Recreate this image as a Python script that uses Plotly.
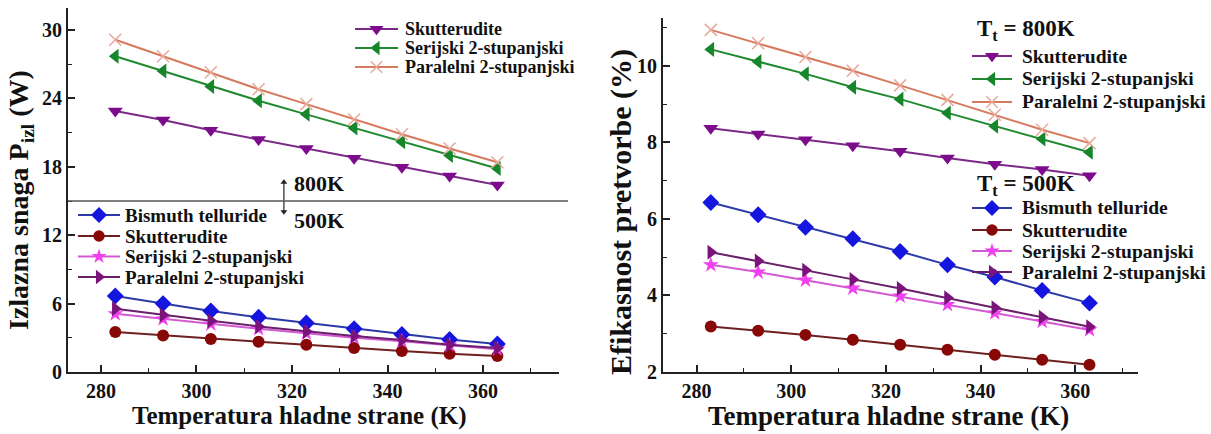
import plotly.graph_objects as go

# ---------------- data ----------------
temps = [283, 293, 303, 313, 323, 333, 343, 353, 363]

# Output power (W)
p_sku800 = [22.9, 22.1, 21.2, 20.4, 19.6, 18.75, 17.95, 17.2, 16.4]
p_ser800 = [27.7, 26.4, 25.05, 23.8, 22.6, 21.4, 20.2, 19.0, 17.85]
p_par800 = [29.15, 27.7, 26.3, 24.8, 23.5, 22.15, 20.85, 19.6, 18.4]
p_bi500 = [6.67, 6.0, 5.35, 4.8, 4.3, 3.8, 3.3, 2.85, 2.45]
p_sku500 = [3.5, 3.2, 2.9, 2.65, 2.4, 2.1, 1.85, 1.6, 1.4]
p_ser500 = [5.1, 4.65, 4.2, 3.8, 3.4, 3.0, 2.7, 2.35, 2.0]
p_par500 = [5.55, 5.0, 4.5, 4.0, 3.55, 3.15, 2.8, 2.4, 2.1]

# Conversion efficiency (%)
e_sku800 = [8.37, 8.22, 8.07, 7.91, 7.77, 7.59, 7.43, 7.29, 7.13]
e_ser800 = [10.43, 10.11, 9.79, 9.44, 9.13, 8.77, 8.42, 8.09, 7.74]
e_par800 = [10.94, 10.59, 10.23, 9.87, 9.49, 9.11, 8.72, 8.33, 7.98]
e_bi500 = [6.43, 6.11, 5.78, 5.48, 5.15, 4.8, 4.48, 4.13, 3.8]
e_sku500 = [3.19, 3.08, 2.97, 2.84, 2.71, 2.58, 2.45, 2.32, 2.19]
e_ser500 = [4.8, 4.61, 4.4, 4.19, 3.98, 3.76, 3.54, 3.32, 3.1]
e_par500 = [5.13, 4.9, 4.66, 4.42, 4.18, 3.94, 3.68, 3.43, 3.18]

names = {
    "sku": "Skutterudite",
    "ser": "Serijski 2-stupanjski",
    "par": "Paralelni 2-stupanjski",
    "bi": "Bismuth telluride",
}
group_titles = ["800K", "500K"]
x_title = "Temperatura hladne strane (K)"
y_titles = ["Izlazna snaga P<sub>izl</sub> (W)", "Efikasnost pretvorbe (%)"]

# ---------------- styles ----------------
FONT = "Liberation Serif, Times New Roman, serif"
W, H = 1211, 434
INK = "#111"

styles = {
    "sku800": dict(line="#7a2a86", marker="#7d0c8c", symbol="triangle-down", size=13),
    "ser800": dict(line="#1f8a2f", marker="#15862a", symbol="triangle-left", size=13),
    "par800": dict(line="#d67a5e", marker="#e8a89a", symbol="x-thin-open", size=12),
    "bi500": dict(line="#2c3aa8", marker="#1515e0", symbol="diamond", size=13),
    "sku500": dict(line="#6e2020", marker="#880808", symbol="circle", size=12),
    "ser500": dict(line="#d45ad4", marker="#f040f0", symbol="star", size=12),
    "par500": dict(line="#6a1f6a", marker="#7a137a", symbol="triangle-right", size=13),
}

fig = go.Figure()


def marker_of(key, scale=1.0):
    s = styles[key]
    mk = dict(symbol=s["symbol"], size=s["size"] * scale, color=s["marker"])
    if s["symbol"].startswith("x-thin"):
        mk["line"] = dict(color=s["marker"], width=1.5)
    else:
        mk["line"] = dict(width=0)
    return mk


def add(xa, ya, y, key, name):
    s = styles[key]
    fig.add_trace(go.Scatter(
        x=temps, y=y, name=name, mode="lines+markers",
        line=dict(color=s["line"], width=2), marker=marker_of(key),
        xaxis=xa, yaxis=ya, showlegend=False,
    ))


# left panel
add("x", "y", p_sku800, "sku800", names["sku"])
add("x", "y", p_ser800, "ser800", names["ser"])
add("x", "y", p_par800, "par800", names["par"])
add("x", "y", p_bi500, "bi500", names["bi"])
add("x", "y", p_sku500, "sku500", names["sku"])
add("x", "y", p_ser500, "ser500", names["ser"])
add("x", "y", p_par500, "par500", names["par"])
# right panel
add("x2", "y2", e_sku800, "sku800", names["sku"])
add("x2", "y2", e_ser800, "ser800", names["ser"])
add("x2", "y2", e_par800, "par800", names["par"])
add("x2", "y2", e_bi500, "bi500", names["bi"])
add("x2", "y2", e_sku500, "sku500", names["sku"])
add("x2", "y2", e_ser500, "ser500", names["ser"])
add("x2", "y2", e_par500, "par500", names["par"])


def px(x):
    return x / W


def py(y):
    return 1 - y / H


def txt(x, y, text, size, angle=0, xanchor="center"):
    fig.add_annotation(x=px(x), y=py(y), xref="paper", yref="paper", text=text,
                       showarrow=False, xanchor=xanchor, yanchor="middle", textangle=angle,
                       font=dict(family=FONT, size=size, color=INK, weight="bold"))


# ---------------- legends (drawn on a pixel-space overlay axis) ----------------
def legend_block(entries, line_x0, line_x1, text_x, rows, fsize):
    for (key, label), yrow in zip(entries, rows):
        s = styles[key]
        fig.add_trace(go.Scatter(x=[line_x0, line_x1], y=[yrow, yrow], mode="lines",
                                 line=dict(color=s["line"], width=2), xaxis="x3", yaxis="y3",
                                 showlegend=False, hoverinfo="skip"))
        fig.add_trace(go.Scatter(x=[(line_x0 + line_x1) / 2], y=[yrow], mode="markers",
                                 marker=marker_of(key, 0.95), xaxis="x3", yaxis="y3",
                                 showlegend=False, hoverinfo="skip"))
        txt(text_x, yrow, label, fsize, xanchor="left")


legend_block([("sku800", names["sku"]), ("ser800", names["ser"]), ("par800", names["par"])],
             355, 398, 403, [29, 48, 67], 18)
legend_block([("bi500", names["bi"]), ("sku500", names["sku"]), ("ser500", names["ser"]), ("par500", names["par"])],
             78, 120, 123, [215, 236, 256.5, 277], 19)
legend_block([("sku800", names["sku"]), ("ser800", names["ser"]), ("par800", names["par"])],
             972, 1012, 1020, [56, 79, 102], 19.5)
legend_block([("bi500", names["bi"]), ("sku500", names["sku"]), ("ser500", names["ser"]), ("par500", names["par"])],
             972, 1012, 1020, [208, 230, 251, 272], 19.5)

for title, ypix in zip(group_titles, [30, 185]):
    txt(975, ypix, "T<sub>t</sub> = " + title, 23, xanchor="left")

# axis titles
txt(299, 416, x_title, 25)
txt(888, 416, x_title, 27)
txt(20, 200, y_titles[0], 28, angle=-90)
txt(621, 212, y_titles[1], 30, angle=-90)

axis_common = dict(
    showline=True, linecolor="#222", linewidth=2, mirror=False,
    ticks="inside", ticklen=7, tickwidth=1.5, tickcolor="#222",
    showgrid=False, zeroline=False,
    tickfont=dict(family=FONT, size=20, color=INK, weight="bold"),
)
xminor = dict(dtick=10, tick0=280, ticks="inside", ticklen=4, tickwidth=1.2, tickcolor="#222", showgrid=False)

fig.update_layout(
    width=W, height=H,
    margin=dict(l=0, r=0, t=0, b=0),
    paper_bgcolor="white", plot_bgcolor="rgba(0,0,0,0)",
    font=dict(family=FONT, color=INK, weight="bold"),
    xaxis=dict(domain=[px(68), px(559)], range=[273.1, 375.9], tick0=280, dtick=20,
               minor=xminor, anchor="y", automargin=False, **axis_common),
    yaxis=dict(domain=[py(372), py(8)], range=[0, 31.93], tick0=0, dtick=6,
               minor=dict(dtick=3, ticks="inside", ticklen=4, tickwidth=1.2, tickcolor="#222", showgrid=False),
               anchor="x", automargin=False, **axis_common),
    xaxis2=dict(domain=[px(663), px(1138)], range=[272.9, 373.25], tick0=280, dtick=20,
                minor=xminor, anchor="y2", automargin=False, **axis_common),
    yaxis2=dict(domain=[py(372), py(18)], range=[2, 11.25], tick0=2, dtick=2,
                minor=dict(dtick=1, ticks="inside", ticklen=4, tickwidth=1.2, tickcolor="#222", showgrid=False),
                anchor="x2", automargin=False, **axis_common),
    xaxis3=dict(domain=[0, 1], range=[0, W], visible=False, fixedrange=True, anchor="y3"),
    yaxis3=dict(domain=[0, 1], range=[H, 0], visible=False, fixedrange=True, anchor="x3"),
    showlegend=False,
)

# separator line between 800K and 500K groups (left panel)
fig.add_shape(type="line", xref="paper", yref="y", x0=px(68), x1=px(568), y0=15, y1=15,
              line=dict(color="#555", width=1.5))
# double arrow marking the two hot-side temperature groups
fig.add_trace(go.Scatter(x=[318.3, 318.3], y=[14.05, 16.65], mode="lines+markers",
                         line=dict(color="#222", width=1.2),
                         marker=dict(symbol=["triangle-down", "triangle-up"], size=6, color="#222"),
                         xaxis="x", yaxis="y", showlegend=False, hoverinfo="skip"))
fig.add_annotation(x=320, y=16.55, xref="x", yref="y", text=group_titles[0], showarrow=False, xanchor="left",
                   font=dict(family=FONT, size=22, color=INK, weight="bold"))
fig.add_annotation(x=320, y=13.3, xref="x", yref="y", text=group_titles[1], showarrow=False, xanchor="left",
                   font=dict(family=FONT, size=22, color=INK, weight="bold"))

fig.write_html("out.html")
